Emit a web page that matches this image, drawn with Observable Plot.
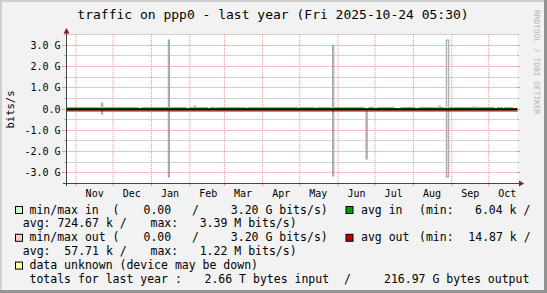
<!DOCTYPE html>
<html><head><meta charset="utf-8">
<script src="https://cdn.jsdelivr.net/npm/d3@7"></script>
<script src="https://cdn.jsdelivr.net/npm/@observablehq/plot@0.6"></script>
<style>
html,body{margin:0;padding:0;background:#f2f2f2;}
#wrap{position:relative;width:547px;height:293px;overflow:hidden;background:#f2f2f2;}
#wrap svg{position:absolute;left:0;top:0;}
</style></head><body><div id="wrap"></div>
<script>
// ---- data ----
const rangeStart = "2024-10-24T05:30Z";
const rangeEnd = "2025-10-24T05:30Z";
const monthStarts = ["2024-11-01","2024-12-01","2025-01-01","2025-02-01","2025-03-01","2025-04-01","2025-05-01","2025-06-01","2025-07-01","2025-08-01","2025-09-01","2025-10-01"];
const monthLabelDates = ["2024-11-16","2024-12-16","2025-01-16","2025-02-16","2025-03-16","2025-04-16","2025-05-16","2025-06-16","2025-07-16","2025-08-16","2025-09-16","2025-10-16"];
const monthLabels = ["Nov","Dec","Jan","Feb","Mar","Apr","May","Jun","Jul","Aug","Sep","Oct"];
const yTicks = [-3e9,-2e9,-1e9,0,1e9,2e9,3e9];
const yTickLabels = ["-3.0 G","-2.0 G","-1.0 G","0.0","1.0 G","2.0 G","3.0 G"];
const yMajorGrid = [-3e9,-2e9,-1e9,0,1e9,2e9,3e9];
const yMinorGrid = [-2.5e9,-1.5e9,-0.5e9,0.5e9,1.5e9,2.5e9,3.5e9];

// spikes of min/max in (up) and min/max out (down)
const spikeStart  = ["2024-11-22","2025-01-15","2025-02-05","2025-05-28","2025-06-24","2025-08-22","2025-08-28","2025-09-19"];
const spikeEnd    = ["2024-11-23","2025-01-16","2025-02-06","2025-05-29","2025-06-25","2025-08-23","2025-08-30","2025-09-21"];
const spikeMaxIn  = [0.27e9, 3.23e9, 0.12e9, 2.96e9, 0,      0.10e9, 3.23e9, 0.08e9];
const spikeMaxOut = [0.26e9, 3.22e9, 0,      3.17e9, 2.36e9, 0,      3.22e9, 0];

// periods where the small min/max in band is visible just above zero
const bandStart = ["2024-10-24T05:30Z","2024-12-24","2025-02-01","2025-02-18","2025-02-23","2025-03-20","2025-05-01","2025-05-15","2025-05-29","2025-06-26","2025-07-03","2025-07-22","2025-08-06","2025-08-20","2025-08-30","2025-09-15","2025-10-08","2025-10-14"];
const bandEnd   = ["2024-12-22","2025-01-30","2025-02-16","2025-02-22","2025-03-19","2025-04-30","2025-05-14","2025-05-27","2025-06-23","2025-07-01","2025-07-17","2025-08-03","2025-08-20","2025-08-27","2025-09-15","2025-10-06","2025-10-13","2025-10-21"];
const bandLevel = 0.08e9;

// averages (bits/s)
const avgDates = ["2024-10-24T05:30Z","2025-10-24T05:30Z"];
const avgIn  = [724670, 724670];
const avgOut = [-57710, -57710];

// legend
const legendRows = [
  [[29.5,"min/max in  ("],[143.5,"0.00"],[192,"/"],[230.8,"3.20 G bits/s)"],[361,"avg in"],[419,"(min:"],[475,"6.04 k /"]],
  [[22.8,"avg: 724.67 k /"],[150.5,"max:"],[199.7,"3.39 M bits/s)"]],
  [[29.5,"min/max out ("],[143.5,"0.00"],[192,"/"],[230.8,"3.20 G bits/s)"],[361,"avg out"],[419,"(min:"],[468.3,"14.87 k /"]],
  [[22.8,"avg:  57.71 k /"],[150.5,"max:"],[199.7,"1.22 M bits/s)"]],
  [[29.5,"data unknown (device may be down)"]],
  [[29.5,"totals for last year :"],[204.5,"2.66 T bytes input"],[344,"/"],[384,"216.97 G bytes output"]]
];
const legendSwatches = [[0,15.5,"#c8ffc8"],[0,346,"#00a000"],[2,15.5,"#ffc8c8"],[2,346,"#c00000"],[4,15.5,"#ffff99"]];
const rowBaselines = [213.5,227.4,241.3,255.2,269.1,283];

// ---- build ----
const W = 547, H = 293;
const parse = s => new Date(s);
const x0 = parse(rangeStart), x1 = parse(rangeEnd);
const months = monthStarts.map(parse);
const labelTicks = monthLabelDates.map(parse);
const spikes = spikeStart.map((s,i)=>({start: parse(s), end: parse(spikeEnd[i]), maxIn: spikeMaxIn[i], maxOut: spikeMaxOut[i]}));
const band = bandStart.map((s,i)=>({start: parse(s), end: parse(bandEnd[i]), v: bandLevel}));
const avg = avgDates.map((d,i)=>({t: parse(d), vin: avgIn[i], vout: avgOut[i]}));

const majorColor = "#eb9595", minorColor = "#b0b0b0", arrowColor = "#801f1f";
const upArrow = {draw(ctx){ ctx.moveTo(0,-6.5); ctx.lineTo(3,-1); ctx.lineTo(-3,-1); ctx.closePath(); }};
const rightArrow = {draw(ctx){ ctx.moveTo(6.5,0); ctx.lineTo(1.5,-3); ctx.lineTo(1.5,3); ctx.closePath(); }};

const chart = Plot.plot({
  width: W, height: H,
  marginLeft: 66, marginRight: 30, marginTop: 34, marginBottom: 110,
  style: {background: "#f2f2f2", fontFamily: '"DejaVu Sans Mono", monospace', fontSize: "10px"},
  x: {type: "utc", domain: [x0, x1], ticks: labelTicks, tickFormat: d => monthLabels[labelTicks.findIndex(t => +t === +d)], tickSize: 0, tickPadding: 6, label: null},
  y: {domain: [-3.5e9, 3.5e9], nice: false, round: true, ticks: yTicks, tickFormat: d => yTickLabels[yTicks.indexOf(d)], tickSize: 0, tickPadding: 6, label: null},
  marks: [
    Plot.frame({fill: "white", stroke: "none"}),
    Plot.ruleY(yMinorGrid, {stroke: minorColor, strokeOpacity: 0.55, strokeWidth: 1}),
    Plot.ruleY(yMajorGrid, {stroke: majorColor, strokeOpacity: 0.6, strokeWidth: 1}),
    Plot.ruleX(months, {stroke: majorColor, strokeDasharray: "1,1"}),
    // small solid grid ticks at the frame edges
    Plot.ruleY(yMajorGrid, {x1: () => x0, x2: () => x0, insetLeft: -4, stroke: majorColor}),
    Plot.ruleY(yMajorGrid, {x1: () => x1, x2: () => x1, insetRight: -3, stroke: majorColor}),
    Plot.ruleY(yMinorGrid, {x1: () => x0, x2: () => x0, insetLeft: -2, stroke: minorColor}),
    Plot.ruleY(yMinorGrid, {x1: () => x1, x2: () => x1, insetRight: -2, stroke: minorColor}),
    Plot.ruleX(months, {y1: () => -3.5e9, y2: () => -3.5e9, insetBottom: -3, stroke: majorColor}),
    // small min/max in band near zero
    Plot.ruleY(band, {y: "v", x1: "start", x2: "end", stroke: "#a4a4a4", strokeWidth: 1}),
    // spikes
    Plot.rect(spikes.filter(d => d.maxIn > 0), {x1: "start", x2: "end", y1: () => 0, y2: "maxIn", fill: "#c8ffc8", stroke: "#a0a0a0", strokeWidth: 1}),
    Plot.rect(spikes.filter(d => d.maxOut > 0), {x1: "start", x2: "end", y1: () => 0, y2: d => -d.maxOut, fill: "#ffc8c8", stroke: "#a0a0a0", strokeWidth: 1}),
    // averages and zero rule
    Plot.lineY(avg, {x: "t", y: "vin", stroke: "#00a000", strokeWidth: 1}),
    Plot.ruleY([0], {stroke: "#000", strokeWidth: 2}),
    Plot.lineY(avg, {x: "t", y: "vout", stroke: "#b00000", strokeWidth: 1, dy: 1.5}),
    // axes with arrows
    Plot.ruleX([x0], {insetTop: -5, insetBottom: -3, stroke: "#444"}),
    Plot.ruleY([-3.5e9], {insetLeft: -3, insetRight: -3, stroke: "#444"}),
    Plot.dot([0], {frameAnchor: "top-left", symbol: upArrow, r: 1, fill: arrowColor, stroke: "none"}),
    Plot.dot([0], {frameAnchor: "bottom-right", symbol: rightArrow, r: 1, fill: arrowColor, stroke: "none"})
  ]
});
const wrap = document.getElementById("wrap");
wrap.appendChild(chart);

// ---- text overlay: title, y label, legend, watermark, border ----
const svg = d3.select(wrap).append("svg").attr("width", W).attr("height", H)
  .style("pointer-events", "none")
  .attr("font-family", '"DejaVu Sans Mono", monospace');

svg.append("text").attr("x", 273).attr("y", 18.5).attr("text-anchor", "middle")
  .attr("font-size", 13).text("traffic on ppp0 - last year (Fri 2025-10-24 05:30)");
svg.append("text").attr("transform", "translate(14.3,109.5) rotate(-90)").attr("text-anchor", "middle")
  .attr("font-size", 10.5).text("bits/s");
svg.append("text").attr("transform", "translate(534.3,10) rotate(90)")
  .attr("font-size", 7.9).attr("fill", "#b4b4b4").text("RRDTOOL / TOBI OETIKER");

legendRows.forEach((row, r) => {
  row.forEach(([x, s]) => {
    svg.append("text").attr("x", x).attr("y", rowBaselines[r]).attr("font-size", 11.5)
      .attr("xml:space", "preserve").style("white-space", "pre").text(s);
  });
});
legendSwatches.forEach(([r, x, c]) => {
  svg.append("rect").attr("x", x).attr("y", rowBaselines[r] - 7).attr("width", 7).attr("height", 7)
    .attr("fill", c).attr("stroke", "#000").attr("stroke-width", 1);
});

svg.append("rect").attr("x", 0).attr("y", 0).attr("width", W).attr("height", 2).attr("fill", "#cfcfcf");
svg.append("rect").attr("x", 0).attr("y", 0).attr("width", 2).attr("height", H).attr("fill", "#cfcfcf");
svg.append("rect").attr("x", 0).attr("y", H - 3).attr("width", W).attr("height", 3).attr("fill", "#939393");
svg.append("rect").attr("x", W - 3).attr("y", 0).attr("width", 3).attr("height", H).attr("fill", "#939393");
</script></body></html>
